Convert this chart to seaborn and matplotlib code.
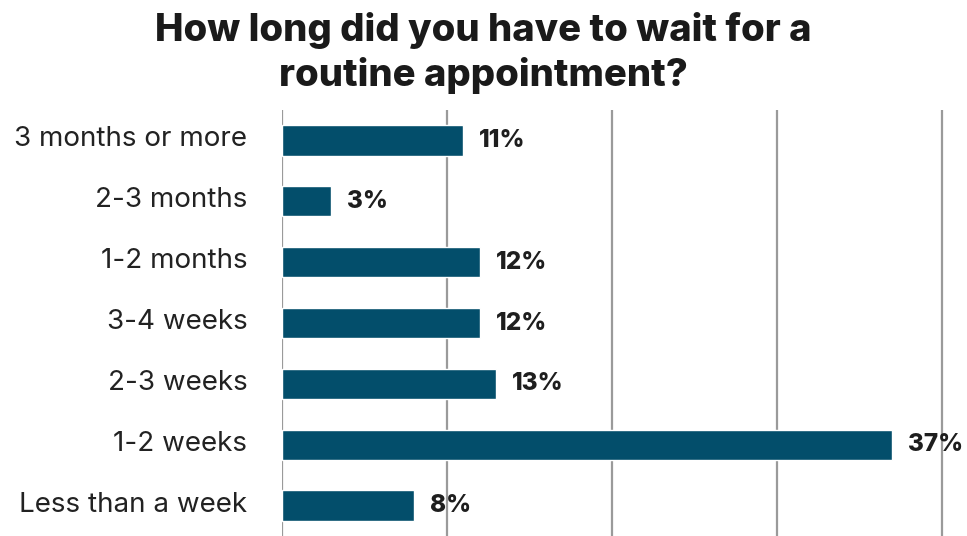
import matplotlib
matplotlib.use("Agg")
import matplotlib.pyplot as plt
import matplotlib.transforms as mtransforms
import seaborn as sns
import pandas as pd

categories = ["3 months or more", "2-3 months", "1-2 months", "3-4 weeks",
              "2-3 weeks", "1-2 weeks", "Less than a week"]
values = [11, 3, 12, 12, 13, 37, 8]
value_labels = ["11%", "3%", "12%", "12%", "13%", "37%", "8%"]
title = "How long did you have to wait for a\nroutine appointment?"

sns.set_theme(style="white")
plt.rcParams["font.family"] = ["Inter", "DejaVu Sans"]

df = pd.DataFrame({"category": categories, "value": values})

fig = plt.figure(figsize=(9.67, 5.36), dpi=100)
ax = fig.add_axes([282 / 967, 0.0, (950 - 282) / 967, 1 - 110 / 536])

sns.barplot(data=df, y="category", x="value", order=categories,
            color="#034e6b", width=0.5, saturation=1, ax=ax, zorder=3)

ax.set_xlim(0, 40.5)
ax.set_ylim(6.5, -0.5)
for x in [0, 10, 20, 30, 40]:
    ax.axvline(x, color="#9a9a9a", linewidth=1.6, zorder=1)

for i, (v, lab) in enumerate(zip(values, value_labels)):
    ax.text(v + 0.95, i, lab, va="center", ha="left", fontsize=17.5,
            fontweight="heavy", color="#1e1e1e", clip_on=False)

ax.set_xlabel("")
ax.set_ylabel("")
ax.set_xticks([])
ax.tick_params(axis="y", length=0, pad=25, labelsize=20, labelcolor="#222222")
# nudge the category labels slightly upward
shift = mtransforms.ScaledTranslation(0, 4 / 100, fig.dpi_scale_trans)
for t in ax.get_yticklabels():
    t.set_transform(t.get_transform() + shift)
for s in ax.spines.values():
    s.set_visible(False)

fig.text(0.5, 0.978, title, ha="center", va="top", fontsize=27.5,
         fontweight="heavy", color="#1a1a1a", linespacing=1.3)

fig.savefig("out.png", dpi=100, facecolor="white")
